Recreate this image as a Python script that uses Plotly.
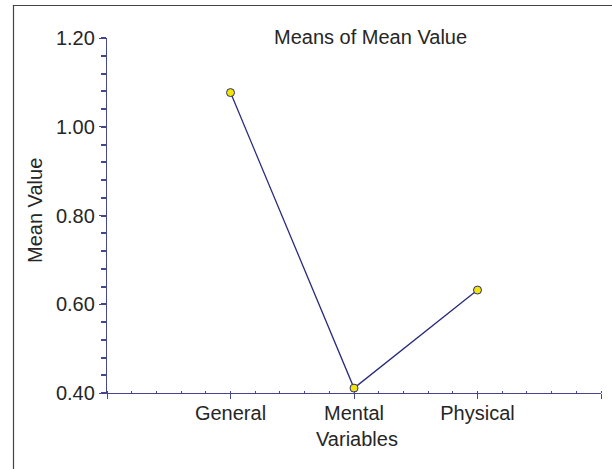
import plotly.graph_objects as go

categories = ["General", "Mental", "Physical"]
means = [1.077, 0.411, 0.632]
y_ticks = [0.40, 0.60, 0.80, 1.00, 1.20]

x_pos = [i + 1 for i in range(len(categories))]

FONT = "Arial, 'Liberation Sans', sans-serif"
AXIS = "#46468f"
LINE = "#2b2b7d"
TEXT = "#262626"

W, H = 612, 469
L, R, T, B = 107, 11, 38, 76
pw, ph = W - L - R, H - T - B

def px_x(p):
    return (p - L) / pw

def px_y(p):
    return (H - B - p) / ph

fig = go.Figure()
fig.add_trace(go.Scatter(
    x=x_pos, y=means, mode="lines+markers",
    line=dict(color=LINE, width=1.3),
    marker=dict(size=8, color="#f2e600", line=dict(color=LINE, width=1)),
    hoverinfo="skip", showlegend=False,
))

fig.update_layout(
    width=W, height=H,
    margin=dict(l=L, r=R, t=T, b=B),
    paper_bgcolor="white", plot_bgcolor="white",
    font=dict(family=FONT, size=20, color=TEXT),
    xaxis=dict(
        range=[0, len(categories) + 1],
        tickmode="array",
        tickvals=[0] + x_pos + [len(categories) + 1],
        ticktext=[""] + categories + [""],
        ticks="outside", ticklen=5, tickwidth=1.3, tickcolor=AXIS,
        ticklabelstandoff=-3,
        showline=True, linecolor=AXIS, linewidth=1.3,
        showgrid=False, zeroline=False,
        tickfont=dict(size=20, color=TEXT, family=FONT),
        minor=dict(tickmode="linear", tick0=0, dtick=0.2, ticks="inside",
                   ticklen=2, tickwidth=1, tickcolor=AXIS, showgrid=False),
    ),
    yaxis=dict(
        range=[0.4, 1.2],
        tickmode="array", tickvals=y_ticks,
        ticktext=[f"{v:.2f}" for v in y_ticks],
        ticks="outside", ticklen=7, tickwidth=1.3, tickcolor=AXIS,
        showline=True, linecolor=AXIS, linewidth=1.3,
        showgrid=False, zeroline=False,
        tickfont=dict(size=20, color=TEXT, family=FONT),
        minor=dict(tickmode="linear", tick0=0.4, dtick=0.04, ticks="outside",
                   ticklen=5, tickwidth=1.6, tickcolor=AXIS, showgrid=False),
    ),
    annotations=[
        dict(text="Means of Mean Value", xref="paper", yref="paper",
             x=px_x(370), y=px_y(37), xanchor="center", yanchor="middle",
             showarrow=False, font=dict(size=20, color=TEXT, family=FONT)),
        dict(text="Mean Value", xref="paper", yref="paper",
             x=px_x(35), y=px_y(211), xanchor="center", yanchor="middle",
             textangle=-90, showarrow=False,
             font=dict(size=20, color=TEXT, family=FONT)),
        dict(text="Variables", xref="paper", yref="paper",
             x=px_x(357), y=px_y(439), xanchor="center", yanchor="middle",
             showarrow=False, font=dict(size=20, color=TEXT, family=FONT)),
    ],
    shapes=[
        dict(type="rect", xref="paper", yref="paper",
             x0=px_x(13.5), x1=px_x(640), y0=px_y(5.5), y1=px_y(520),
             line=dict(color="#444444", width=1.2), layer="below"),
    ],
)

fig.write_html("out.html")
